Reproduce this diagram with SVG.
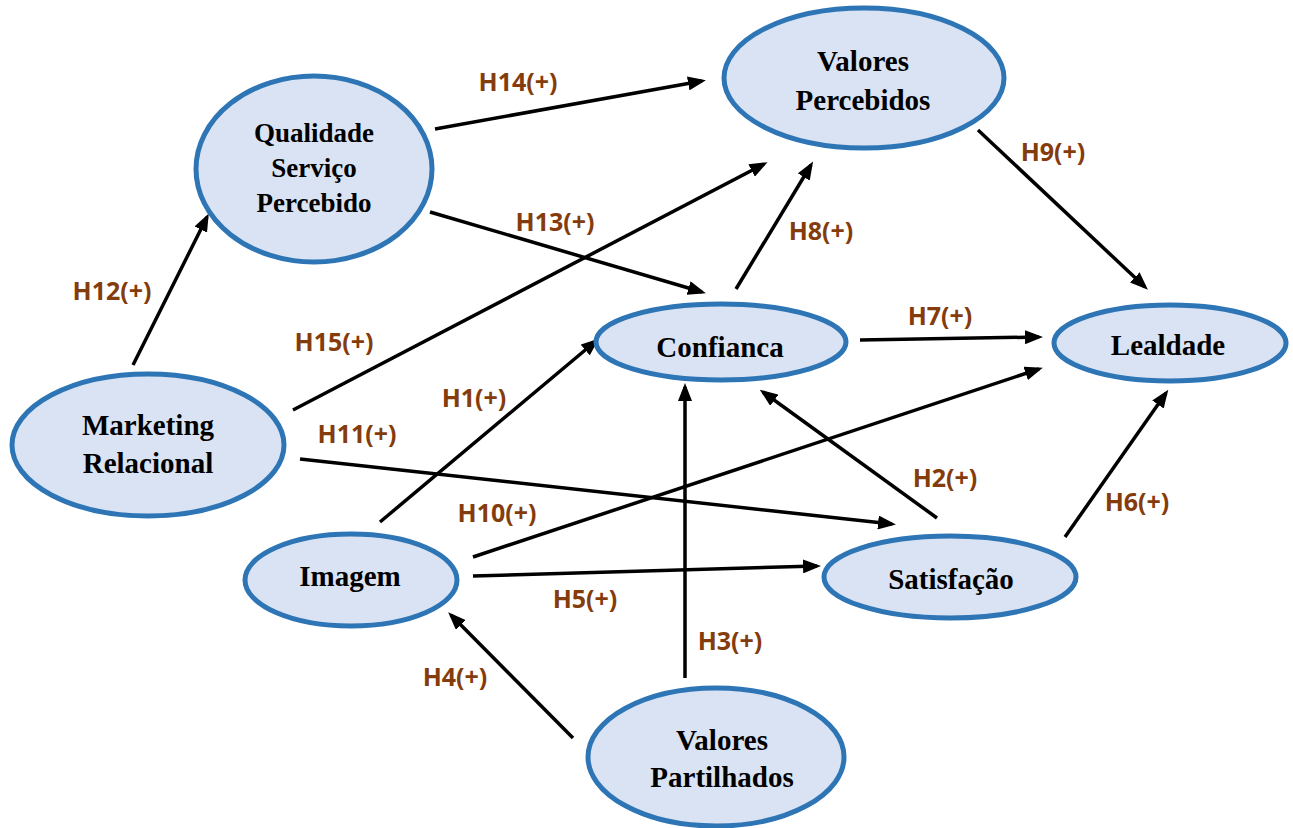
<svg xmlns="http://www.w3.org/2000/svg" width="1293" height="828" viewBox="0 0 1293 828">
<style>
.node ellipse{fill:#DAE3F3;stroke:#2E75B6;stroke-width:5}
.node text{font-family:"Liberation Serif","Times New Roman",serif;font-weight:bold;font-size:29px;fill:#000;text-anchor:middle}
.conn line{stroke:#000;stroke-width:3.5;marker-end:url(#ah)}
.lbl text{font-family:"Open Sans","Liberation Sans",Arial,sans-serif;font-weight:bold;font-size:25px;fill:#843C0C;text-anchor:middle}
</style>
<defs>
<marker id="ah" markerUnits="userSpaceOnUse" markerWidth="18" markerHeight="14" refX="14" refY="7" orient="auto">
<path d="M0,0 L18,7 L0,14 z" fill="#000"/>
</marker>
</defs>
<rect width="1293" height="828" fill="#fff"/>
<g id="connectors" class="conn">
<line x1="435" y1="129" x2="702" y2="81"/>
<line x1="430" y1="212" x2="702" y2="292"/>
<line x1="293" y1="410" x2="764" y2="164"/>
<line x1="133" y1="365" x2="207" y2="217"/>
<line x1="736" y1="289" x2="811" y2="165"/>
<line x1="978" y1="130" x2="1145" y2="287"/>
<line x1="860" y1="340" x2="1039" y2="337"/>
<line x1="380" y1="522" x2="596" y2="341"/>
<line x1="300" y1="459" x2="892" y2="524"/>
<line x1="473" y1="557" x2="1039" y2="369"/>
<line x1="937" y1="518" x2="763" y2="392"/>
<line x1="473" y1="576" x2="817" y2="566"/>
<line x1="1065" y1="537" x2="1166" y2="393"/>
<line x1="685" y1="678" x2="685" y2="387"/>
<line x1="573" y1="738" x2="451" y2="615"/>
</g>
<g id="labels" class="lbl">
<text x="518" y="91">H14(+)</text>
<text x="555" y="231">H13(+)</text>
<text x="1053" y="161">H9(+)</text>
<text x="821" y="240">H8(+)</text>
<text x="112" y="300">H12(+)</text>
<text x="334" y="351">H15(+)</text>
<text x="940" y="325">H7(+)</text>
<text x="474" y="407">H1(+)</text>
<text x="357" y="443">H11(+)</text>
<text x="945" y="487">H2(+)</text>
<text x="497" y="522">H10(+)</text>
<text x="1137" y="511">H6(+)</text>
<text x="585" y="608">H5(+)</text>
<text x="730" y="650">H3(+)</text>
<text x="455" y="686">H4(+)</text>
</g>
<g id="qualidade" class="node">
<ellipse cx="314" cy="169" rx="118" ry="93"/>
<text x="314" y="142" style="font-size:27px">Qualidade</text>
<text x="314" y="177" style="font-size:27px">Serviço</text>
<text x="314" y="212" style="font-size:27px">Percebido</text>
</g>
<g id="valores-percebidos" class="node">
<ellipse cx="864" cy="78" rx="140" ry="70"/>
<text x="863" y="71">Valores</text>
<text x="863" y="110">Percebidos</text>
</g>
<g id="marketing" class="node">
<ellipse cx="148" cy="445" rx="136" ry="71"/>
<text x="148" y="435">Marketing</text>
<text x="148" y="473">Relacional</text>
</g>
<g id="confianca" class="node">
<ellipse cx="721" cy="342" rx="125" ry="38"/>
<text x="720" y="357">Confianca</text>
</g>
<g id="lealdade" class="node">
<ellipse cx="1170" cy="343" rx="116" ry="38"/>
<text x="1168" y="355">Lealdade</text>
</g>
<g id="imagem" class="node">
<ellipse cx="351" cy="580" rx="106" ry="46"/>
<text x="350" y="586">Imagem</text>
</g>
<g id="satisfacao" class="node">
<ellipse cx="950" cy="577" rx="126" ry="41"/>
<text x="951" y="589">Satisfação</text>
</g>
<g id="valores-partilhados" class="node">
<ellipse cx="716" cy="757" rx="128" ry="69"/>
<text x="722" y="750">Valores</text>
<text x="722" y="787">Partilhados</text>
</g>
</svg>
